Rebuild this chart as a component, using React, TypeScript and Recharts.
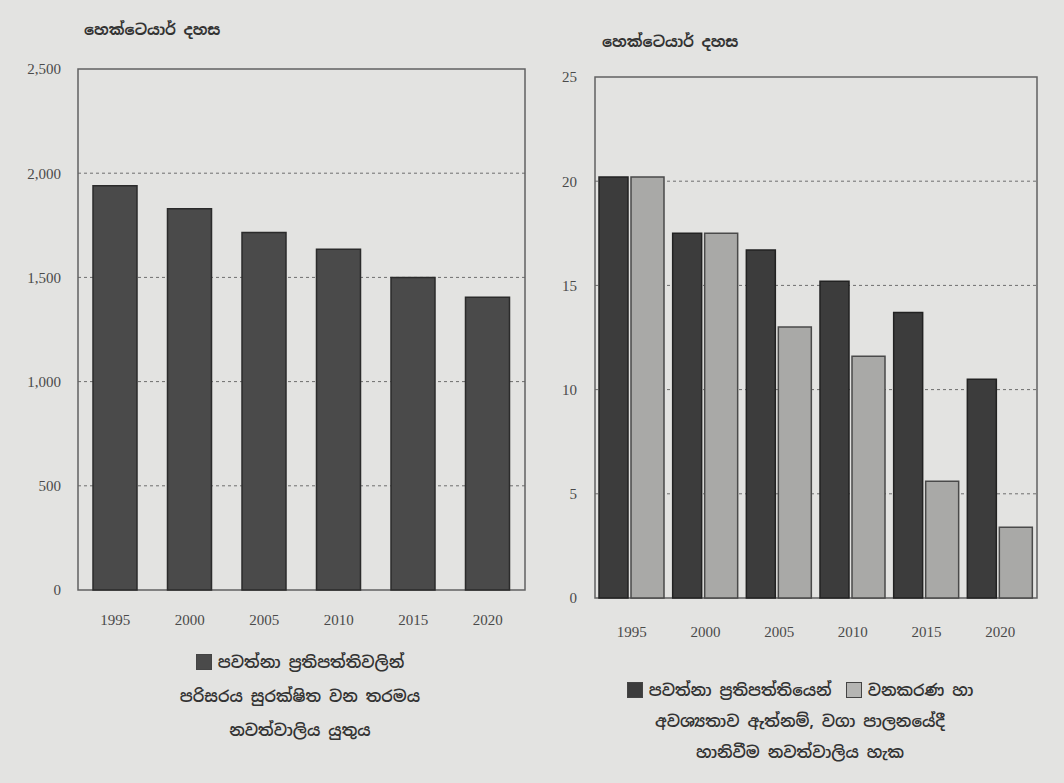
import React from 'react';
import { BarChart, Bar, XAxis, YAxis, CartesianGrid, ReferenceArea } from 'recharts';

const years = ['1995', '2000', '2005', '2010', '2015', '2020'];
const forestArea = [1940, 1830, 1715, 1635, 1500, 1405];
const currentPolicy = [20.2, 17.5, 16.7, 15.2, 13.7, 10.5];
const improvedPolicy = [20.2, 17.5, 13.0, 11.6, 5.6, 3.4];
const leftTicks = [0, 500, 1000, 1500, 2000, 2500];
const rightTicks = [0, 5, 10, 15, 20, 25];

const unitLabel = 'හෙක්ටෙයාර් දහස';
const leftLegend = ['පවත්නා ප්‍රතිපත්තිවලින්', 'පරිසරය සුරක්ෂිත වන තරමය', 'නවත්වාලිය යුතුය'];
const rightLegendA = 'පවත්නා ප්‍රතිපත්තියෙන්';
const rightLegendB = ['වනකරණ හා', 'අවශ්‍යතාව ඇත්නම්, වගා පාලනයේදී', 'හානිවීම නවත්වාලිය හැක'];

const leftData = years.map((y, i) => ({ year: y, area: forestArea[i] }));
const rightData = years.map((y, i) => ({ year: y, current: currentPolicy[i], improved: improvedPolicy[i] }));

const BG = '#e3e3e1';
const INK = '#333';
const FRAME = '#626262';
const SERIF = '"Liberation Serif", "DejaVu Serif", serif';
const SANS = '"Noto Sans Sinhala", "Noto Sans", "DejaVu Sans", sans-serif';

const tickStyle = { fill: '#4a4a4a', fontSize: 15, fontFamily: SERIF };

const Swatch = ({ color }: { color: string }) => (
  <span style={{ display: 'inline-block', width: 14, height: 14, background: color, border: '1px solid #444', marginRight: 6, verticalAlign: -2 }} />
);

export default function App() {
  return (
    <div style={{ position: 'absolute', left: 0, top: 0, width: 1064, height: 783, background: BG, overflow: 'hidden', fontFamily: SANS, color: INK }}>
      <div style={{ position: 'absolute', left: 84, top: 20, fontSize: 15, fontWeight: 700, color: '#333' }}>{unitLabel}</div>
      <div style={{ position: 'absolute', left: 602, top: 32, fontSize: 15, fontWeight: 700, color: '#333' }}>{unitLabel}</div>

      <div style={{ position: 'absolute', left: 0, top: 0 }}>
        <BarChart width={540} height={640} data={leftData} margin={{ top: 69, right: 15, left: 0, bottom: 20 }}>
          <CartesianGrid vertical={false} stroke="#6e6e6e" strokeDasharray="3 3" horizontalValues={[500, 1000, 1500, 2000]} />
          <XAxis dataKey="year" tickLine={false} axisLine={false} tick={tickStyle} tickMargin={18} height={30} />
          <YAxis domain={[0, 2500]} ticks={leftTicks} tickLine={false} axisLine={false} tick={tickStyle} tickMargin={11} width={78} tickFormatter={(v: number) => v.toLocaleString('en-US')} />
          <ReferenceArea y1={0} y2={2500} fill="none" stroke={FRAME} strokeWidth={1.5} ifOverflow="visible" />
          <Bar dataKey="area" fill="#4a4a4a" stroke="#2b2b2b" strokeWidth={1.5} barSize={44} isAnimationActive={false} />
        </BarChart>
      </div>

      <div style={{ position: 'absolute', left: 540, top: 0 }}>
        <BarChart width={524} height={650} data={rightData} margin={{ top: 77, right: 27, left: 0, bottom: 22 }} barGap={3}>
          <CartesianGrid vertical={false} stroke="#6e6e6e" strokeDasharray="3 3" horizontalValues={[5, 10, 15, 20]} />
          <XAxis dataKey="year" tickLine={false} axisLine={false} tick={tickStyle} tickMargin={22} height={30} />
          <YAxis domain={[0, 25]} ticks={rightTicks} tickLine={false} axisLine={false} tick={tickStyle} tickMargin={12} width={55} />
          <ReferenceArea y1={0} y2={25} fill="none" stroke={FRAME} strokeWidth={1.5} ifOverflow="visible" />
          <Bar dataKey="current" fill="#3c3c3c" stroke="#222" strokeWidth={1.5} barSize={29} isAnimationActive={false} />
          <Bar dataKey="improved" fill="#a9a9a7" stroke="#4a4a4a" strokeWidth={1.5} barSize={33} isAnimationActive={false} />
        </BarChart>
      </div>

      <div style={{ position: 'absolute', left: 140, top: 646, width: 320, textAlign: 'center', fontSize: 16, lineHeight: '34px', fontWeight: 600 }}>
        <div><Swatch color="#4a4a4a" />{leftLegend[0]}</div>
        <div>{leftLegend[1]}</div>
        <div>{leftLegend[2]}</div>
      </div>

      <div style={{ position: 'absolute', left: 560, top: 675, width: 480, textAlign: 'center', fontSize: 16, lineHeight: '31px', fontWeight: 600 }}>
        <div><Swatch color="#3c3c3c" />{rightLegendA}<span style={{ display: 'inline-block', width: 14 }} /><Swatch color="#b5b5b3" />{rightLegendB[0]}</div>
        <div>{rightLegendB[1]}</div>
        <div>{rightLegendB[2]}</div>
      </div>
    </div>
  );
}
